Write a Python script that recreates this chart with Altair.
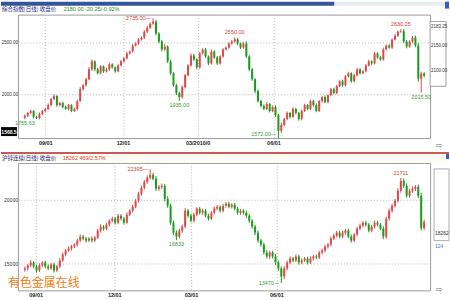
import altair as alt
import pandas as pd

# ---------------- data ----------------
# top panel: index (daily), close prices
top_close = [
    1790, 1818, 1837, 1780, 1768, 1808, 1837, 1856, 1894, 1952,
    1981, 1894, 1914, 1875, 1856, 1894, 1837, 1856, 1933, 2048,
    2086, 2144, 2240, 2317, 2240, 2202, 2269, 2221, 2240, 2288,
    2259, 2221, 2278, 2317, 2346, 2394, 2413, 2470, 2490, 2528,
    2547, 2605, 2643, 2682, 2701, 2586, 2509, 2432, 2461, 2317,
    2202, 2086, 2010, 1971, 2067, 2182, 2278, 2374, 2336, 2259,
    2394, 2432, 2365, 2298, 2413, 2355, 2298, 2365, 2432, 2451,
    2490, 2509, 2530, 2490, 2451, 2490, 2365, 2240, 2144, 2029,
    1933, 1885, 1856, 1904, 1837, 1875, 1798, 1645, 1702, 1760,
    1818, 1780, 1856, 1818, 1760, 1837, 1894, 1856, 1933, 1894,
    1837, 1933, 1971, 1923, 1990, 2048, 2010, 2077, 2125, 2086,
    2173, 2202, 2125, 2182, 2240, 2202, 2221, 2278, 2317, 2298,
    2394, 2355, 2336, 2432, 2470, 2451, 2528, 2566, 2605, 2610,
    2509, 2461, 2509, 2547, 2470, 2150, 2200.25, 2180]
top_upper_wick = [
    15, 12, 13, 8, 10, 14, 9, 12, 16, 10,
    18, 9, 12, 10, 14, 11, 8, 13, 15, 20,
    12, 16, 22, 18, 10, 14, 12, 9, 15, 17,
    11, 10, 13, 15, 12, 18, 10, 14, 12, 16,
    13, 15, 18, 12, 34, 20, 14, 18, 22, 12,
    16, 10, 14, 12, 18, 15, 12, 20, 16, 10,
    14, 12, 16, 10, 18, 12, 14, 11, 13, 10,
    12, 15, 20, 14, 10, 16, 22, 12, 14, 10,
    18, 12, 15, 20, 11, 14, 16, 10, 22, 12,
    14, 10, 16, 12, 9, 15, 13, 10, 14, 12,
    16, 11, 13, 18, 10, 12, 15, 14, 11, 16,
    12, 14, 10, 13, 15, 12, 11, 14, 16, 10,
    15, 12, 14, 18, 10, 13, 12, 15, 11, 20,
    22, 14, 12, 16, 20, 25, 18, 12]
top_lower_wick = [
    14.37, 10, 12, 15, 8, 12, 10, 14, 9, 11,
    13, 16, 10, 12, 9, 14, 11, 10, 12, 8,
    10, 12, 9, 14, 18, 12, 10, 15, 11, 13,
    12, 14, 10, 9, 12, 10, 13, 11, 9, 12,
    10, 12, 14, 10, 12, 18, 15, 20, 12, 16,
    18, 15, 20, 36, 14, 12, 10, 11, 15, 18,
    12, 10, 14, 16, 11, 13, 15, 10, 12, 9,
    11, 10, 12, 15, 14, 12, 16, 18, 15, 20,
    16, 14, 12, 10, 15, 12, 18, 73, 20, 14,
    12, 15, 10, 14, 16, 12, 10, 13, 11, 14,
    12, 10, 15, 11, 13, 10, 14, 12, 10, 13,
    11, 12, 14, 10, 12, 13, 10, 11, 12, 14,
    10, 12, 13, 11, 10, 12, 14, 10, 12, 11,
    15, 18, 12, 14, 16, 30, 134.5, 20]
top_first_open = 1772
top_x_ticks = [7, 33.7, 59.3, 85.3]
top_x_labels = ["09/01", "12/01", "03/2010/0", "06/01"]
top_y_ticks = [2000, 2500]
top_ann_i = [44, 72, 129, 53, 136, 0, 87]
top_ann_v = [2735, 2550, 2630.25, 1935, 2015.5, 1755.63, 1572]
top_ann_t = ["2735.00—", "2550.00", "2630.25", "1935.00", "2015.50", "1755.63", "1572.00—"]
top_ann_pos = ["left", "above", "above", "below", "below", "below", "leftup"]

# bottom panel
bot_close = [
    14612, 14846, 15080, 14768, 14456, 14846, 15080, 14768, 14612, 14924,
    14456, 14768, 15237, 15705, 16018, 16174, 16330, 16486, 16799, 17111,
    16955, 16799, 16955, 16799, 17033, 17580, 17892, 17736, 18048, 18360,
    18517, 18204, 18751, 18517, 18204, 18829, 19141, 19454, 19922, 20469,
    20938, 21406, 21719, 21953, 21641, 20860, 21016, 21094, 20079, 19532,
    18204, 17423, 17111, 17580, 17892, 19141, 18751, 18360, 18829, 19298,
    18985, 19141, 18751, 18517, 18985, 19298, 19454, 19141, 19532, 19688,
    19454, 19610, 19298, 18985, 19141, 18985, 18751, 18360, 17892, 17423,
    16799, 16486, 15861, 15549, 15861, 15549, 15080, 14612, 13987, 14612,
    15080, 15393, 15237, 15549, 15080, 15237, 15393, 15080, 15393, 15549,
    15471, 15861, 16018, 16330, 16486, 16955, 17189, 17423, 17111, 17423,
    17580, 17111, 16799, 17267, 17736, 17970, 18204, 18048, 17580, 17892,
    18204, 18048, 17736, 17111, 18517, 19141, 19532, 19922, 20703, 21485,
    21094, 20313, 20703, 20860, 21016, 20313, 17793, 18262]
bot_upper_wick = [
    150, 120, 180, 100, 140, 160, 110, 130, 170, 120,
    140, 110, 180, 150, 120, 160, 130, 100, 150, 170,
    120, 140, 110, 160, 130, 150, 180, 120, 140, 110,
    160, 130, 150, 120, 140, 170, 110, 150, 130, 160,
    180, 150, 200, 442, 160, 220, 140, 180, 150, 200,
    170, 150, 180, 140, 160, 200, 130, 150, 170, 120,
    140, 160, 130, 150, 120, 170, 140, 110, 150, 130,
    160, 120, 140, 150, 130, 110, 160, 140, 120, 150,
    170, 140, 160, 180, 150, 130, 200, 160, 150, 180,
    140, 160, 120, 150, 130, 170, 110, 140, 150, 120,
    160, 130, 150, 140, 120, 170, 150, 130, 160, 140,
    120, 150, 170, 130, 140, 160, 120, 150, 130, 140,
    160, 140, 130, 180, 150, 170, 160, 140, 200, 226,
    180, 200, 160, 190, 150, 170, 210, 180]
bot_lower_wick = [
    140, 160, 120, 150, 180, 130, 110, 150, 140, 120,
    170, 130, 150, 120, 140, 110, 160, 130, 150, 120,
    140, 160, 120, 150, 130, 110, 140, 160, 120, 150,
    130, 150, 120, 140, 160, 130, 110, 150, 120, 140,
    150, 130, 160, 140, 120, 170, 150, 180, 200, 160,
    180, 200, 278, 150, 170, 140, 160, 130, 150, 120,
    140, 160, 130, 150, 120, 140, 110, 160, 130, 150,
    120, 140, 130, 150, 160, 140, 180, 170, 160, 200,
    180, 160, 170, 150, 190, 160, 200, 180, 517, 200,
    160, 140, 150, 130, 170, 140, 120, 150, 130, 160,
    140, 120, 150, 130, 160, 140, 120, 150, 130, 140,
    160, 130, 150, 120, 140, 130, 150, 160, 140, 130,
    150, 140, 120, 200, 160, 150, 170, 140, 160, 150,
    170, 150, 140, 160, 180, 190, 200, 160]
bot_first_open = 14500
bot_x_ticks = [3.7, 30.7, 57, 86.3]
bot_x_labels = ["09/01", "12/01", "03/01", "06/01"]
bot_y_ticks = [15000, 20000]
bot_ann_i = [43, 129, 52, 88]
bot_ann_v = [22395, 21711, 16833, 13470]
bot_ann_t = ["22395—", "21711", "16833", "13470—"]
bot_ann_pos = ["left", "above", "below", "left"]

RED = "#e04848"
GREEN = "#1c9c1c"
LBL_RED = "#d04040"
LBL_GREEN = "#3a9a3a"
GRID = "#b5b5b5"
CJK = "Noto Sans CJK SC"


def candles(close, uw, lw, first_open):
    opens = [first_open] + close[:-1]
    df = pd.DataFrame({"i": list(range(len(close))), "open": opens,
                       "close": close, "uw": uw, "lw": lw})
    df["high"] = df[["open", "close"]].max(axis=1) + df["uw"]
    df["low"] = df[["open", "close"]].min(axis=1) - df["lw"]
    return df


def label_expr(ticks, labels):
    e = ""
    for t, l in zip(ticks, labels):
        e += f"abs(datum.value - {t}) < 0.5 ? '{l}' : "
    return e + "''"


ONE = pd.DataFrame({"d": [0]})


def rect(x, x2, y, y2, fill, stroke=None):
    kw = dict(fill=fill)
    if stroke:
        kw.update(stroke=stroke, strokeWidth=0.8)
    return alt.Chart(ONE).mark_rect(**kw).encode(
        x=alt.value(x), x2=alt.value(x2), y=alt.value(y), y2=alt.value(y2))


def txt(x, y, s, color="#222", size=5.5, align="left", weight="normal", font="Liberation Sans"):
    return alt.Chart(ONE).mark_text(
        text=s, color=color, fontSize=size, align=align, baseline="middle",
        fontWeight=weight, font=font).encode(x=alt.value(x), y=alt.value(y))


def panel(df, ann, xdom, ydom, w, h, xticks, xlabels, yticks, yfmt, yfont, decos_before, decos_after):
    xs = alt.Scale(domain=xdom, nice=False, zero=False)
    ys = alt.Scale(domain=ydom, nice=False, zero=False)
    xaxis = alt.Axis(values=xticks, labelExpr=label_expr(xticks, xlabels), grid=True,
                     gridColor=GRID, gridDash=[1, 2], domain=False, ticks=False,
                     labelFontSize=5.5, labelFontWeight="bold", labelColor="#222",
                     labelPadding=2, labelOverlap=False, labelFlush=False, title=None)
    yaxis = alt.Axis(values=yticks, format=yfmt, grid=True, gridColor=GRID, gridDash=[1, 2],
                     domain=False, ticks=False, labelFontSize=yfont, labelColor="#333",
                     labelPadding=0.5, labelOverlap=False, title=None)
    color = alt.condition("datum.close >= datum.open", alt.value(RED), alt.value(GREEN))
    base = alt.Chart(df)
    wick = base.mark_rule(strokeWidth=1).encode(
        x=alt.X("i:Q", scale=xs, axis=xaxis),
        y=alt.Y("low:Q", scale=ys, axis=yaxis), y2="high:Q", color=color)
    body = base.mark_bar(size=2).encode(
        x=alt.X("i:Q", scale=xs, axis=xaxis),
        y=alt.Y("open:Q", scale=ys, axis=yaxis), y2="close:Q", color=color)

    adf = pd.DataFrame(ann)
    layers = []
    for pos, al, base_l, dx, dy in [("left", "right", "middle", -2, 0),
                                    ("leftup", "right", "middle", -2, -4),
                                    ("above", "center", "bottom", 0, -2),
                                    ("below", "center", "top", 0, 2)]:
        sub = adf[adf["pos"] == pos]
        if len(sub) == 0:
            continue
        layers.append(alt.Chart(sub).mark_text(
            align=al, baseline=base_l, dx=dx, dy=dy, fontSize=5.5).encode(
            x=alt.X("i:Q", scale=xs, axis=xaxis),
            y=alt.Y("v:Q", scale=ys, axis=yaxis),
            text="t:N",
            color=alt.Color("c:N", scale=None)))
    return alt.layer(*decos_before, wick, body, *layers, *decos_after).properties(width=w, height=h)


top_df = candles(top_close, top_upper_wick, top_lower_wick, top_first_open)
bot_df = candles(bot_close, bot_upper_wick, bot_lower_wick, bot_first_open)


def ann_dict(ii, vv, tt, pp):
    return {"i": ii, "v": vv, "t": tt, "pos": pp,
            "c": [LBL_RED if p == "above" or t.startswith("22") or t.startswith("27") else LBL_GREEN
                  for t, p in zip(tt, pp)]}


top_ann = ann_dict(top_ann_i, top_ann_v, top_ann_t, top_ann_pos)
bot_ann = ann_dict(bot_ann_i, bot_ann_v, bot_ann_t, bot_ann_pos)

W = 414
XDOM = [-2 / 3, -2 / 3 + W / 3]

top_before = [
    rect(-17, 433, -13, -4, "#ffffff"),
    rect(-17, 318, -13, -9, "#34559a"),
    rect(318, 433, -13, -9, "#e8ecf4"),
    rect(429, 433, -13, -6, "#3060d0"),
]
top_after = [
    txt(-16, -6, "综合指数(日线) 收盘价", color="#1a237e", size=5.5, font=CJK),
    txt(46, -6, "2180.00 -20.25/-0.92%", color="#2a8a2a", size=5.5),
    rect(-17, -1, 113, 122, "#000000"),
    txt(-9, 117.5, "1568.5", color="#ffffff", size=5, align="center", weight="bold"),
    rect(414, 430, 7, 72, "#ffffff", stroke="#888888"),
    txt(415, 12, "2183.25", color="#333", size=4.5),
    txt(415, 32, "2150.00", color="#333", size=4.5),
    txt(415, 57, "2100.00", color="#333", size=4.5),
]
bot_before = [
    rect(-17, 433, -11, -9, "#c85a5a"),
    rect(-17, 433, -9, 0, "#fdfbf2"),
    rect(430, 433, -9, -4, "#3060d0"),
]
bot_after = [
    txt(-16, -5, "沪锌连续(日线) 收盘价", color="#1a237e", size=5.5, font=CJK),
    txt(45, -5, "18262 469/2.57%", color="#d04040", size=5.5),
    txt(423, -17, "⇨", color="#777", size=8, align="center", font="DejaVu Sans"),
    txt(423, 128, "⇨", color="#777", size=8, align="center", font="DejaVu Sans"),
    rect(418, 433, 6, 78, "#ffffff", stroke="#999999"),
    txt(419, 70, "18262", color="#333", size=5),
    txt(419, 83, "124", color="#4a7ad0", size=5),
    txt(-10, 121, "有色金属在线", color="#ef7d12", size=12, font=CJK),
]

top = panel(top_df, top_ann, XDOM, [1575, 2770], W, 124, top_x_ticks, top_x_labels,
            top_y_ticks, ".2f", 4.5, top_before, top_after)
bottom = panel(bot_df, bot_ann, XDOM, [12890, 22890], W, 128, bot_x_ticks, bot_x_labels,
               bot_y_ticks, "d", 5, bot_before, bot_after)

chart = alt.vconcat(top, bottom, spacing=25, bounds="flush").properties(
    padding=0
).configure(font="Liberation Sans").configure_view(stroke="#9a9a9a", strokeWidth=1)

chart.save("out.html", embed_options={"renderer": "svg", "actions": False})
